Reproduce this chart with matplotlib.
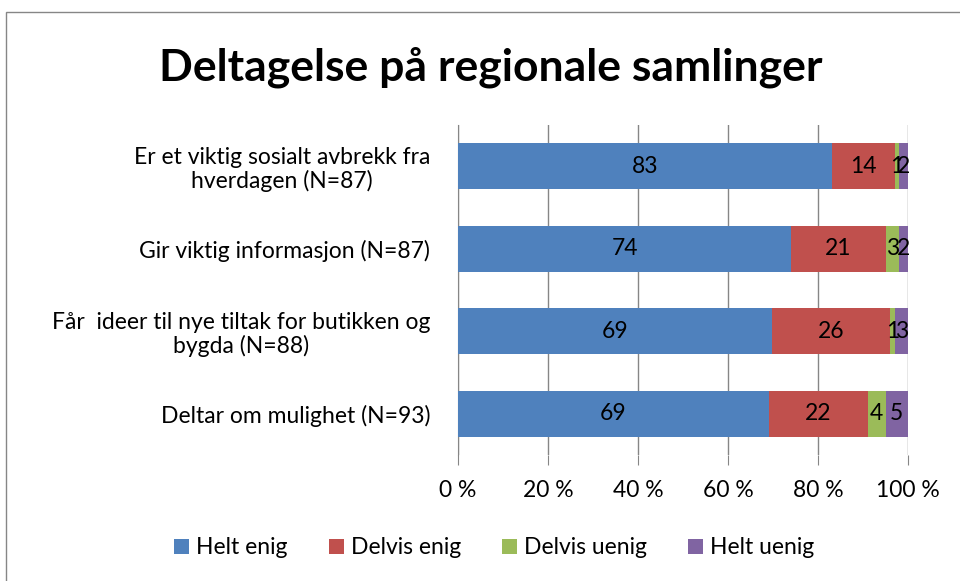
import matplotlib.pyplot as plt
import numpy as np

plt.rcParams['font.family'] = ['Lato', 'DejaVu Sans']

categories = [
    "Er et viktig sosialt avbrekk fra\nhverdagen (N=87)",
    "Gir viktig informasjon (N=87)",
    "Får  ideer til nye tiltak for butikken og\nbygda (N=88)",
    "Deltar om mulighet (N=93)",
]
series_names = ["Helt enig", "Delvis enig", "Delvis uenig", "Helt uenig"]
helt_enig = [83, 74, 69, 69]
delvis_enig = [14, 21, 26, 22]
delvis_uenig = [1, 3, 1, 4]
helt_uenig = [2, 2, 3, 5]
colors = ["#4f81bd", "#c0504d", "#9bbb59", "#8064a2"]
xticks = [0, 20, 40, 60, 80, 100]

data = np.array([helt_enig, delvis_enig, delvis_uenig, helt_uenig], dtype=float)
totals = data.sum(axis=0)
shares = data / totals * 100

fig = plt.figure(figsize=(9.6, 5.81), dpi=100)
ax = fig.add_axes([0.477, 0.217, 0.469, 0.568])

y = np.arange(len(categories))
left = np.zeros(len(categories))
for i, name in enumerate(series_names):
    bars = ax.barh(y, shares[i], left=left, height=0.56, color=colors[i],
                   label=name, zorder=3)
    for j, b in enumerate(bars):
        ax.text(left[j] + shares[i][j] / 2, y[j], f"{int(data[i][j])}",
                ha='center', va='center', fontsize=16.5, color='black', zorder=4)
    left += shares[i]

ax.set_xlim(0, 100)
ax.set_ylim(len(categories) - 0.5, -0.5)
ax.set_xticks(xticks)
ax.set_xticklabels([f"{t} %" for t in xticks], fontsize=16.5)
ax.set_yticks(y)
ax.set_yticklabels(categories, fontsize=16.5, multialignment='center',
                   linespacing=1.1)
ax.tick_params(axis='y', length=0, pad=20)
ax.tick_params(axis='x', length=7, color='#868686', pad=11)
ax.grid(axis='x', color='#868686', linewidth=1, zorder=0)
for s in ['top', 'right', 'bottom']:
    ax.spines[s].set_visible(False)
ax.spines['left'].set_color('#868686')

fig.text(0.511, 0.885, "Deltagelse på regionale samlinger", ha='center',
         va='center', fontsize=32, fontweight='bold')

handles, labels = ax.get_legend_handles_labels()
fig.legend(handles, labels, loc='center', bbox_to_anchor=(0.515, 0.057),
           ncol=4, frameon=False, fontsize=16.5, handlelength=0.65,
           handleheight=0.65, handletextpad=0.3, columnspacing=1.8)

border = plt.Rectangle((0.006, -0.05), 1.1, 0.03 + 1.0, transform=fig.transFigure,
                       fill=False, edgecolor='#868686', linewidth=1)
fig.patches.append(border)

fig.savefig("out.png", dpi=100)
